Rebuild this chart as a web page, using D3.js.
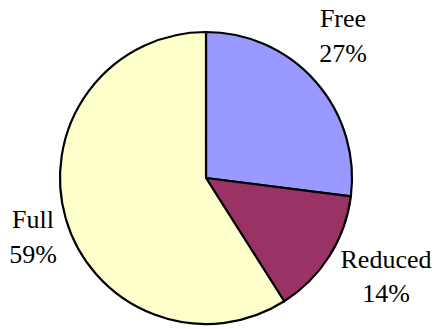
<!DOCTYPE html>
<html>
<head>
<meta charset="utf-8">
<script src="https://cdn.jsdelivr.net/npm/d3@7/dist/d3.min.js"></script>
<style>
  html, body { margin: 0; padding: 0; background: #ffffff; }
  svg { display: block; }
</style>
</head>
<body>
<svg id="chart" width="438" height="329"></svg>
<script>
// Fare categories and their share of riders (percent)
const categories = ["Free", "Reduced", "Full"];
const shares = [27, 14, 59];
const colors = ["#9999FF", "#993366", "#FFFFCC"];

const width = 438, height = 329;
const cx = 206, cy = 178, radius = 146;

const svg = d3.select("#chart");
const g = svg.append("g").attr("transform", `translate(${cx},${cy})`);

const pie = d3.pie().sort(null).value(d => d.value);
const arcs = pie(categories.map((c, i) => ({ name: c, value: shares[i], color: colors[i] })));

const arc = d3.arc().innerRadius(0).outerRadius(radius);

g.selectAll("path.slice")
  .data(arcs)
  .join("path")
  .attr("class", "slice")
  .attr("d", arc)
  .attr("fill", d => d.data.color)
  .attr("stroke", "#000")
  .attr("stroke-width", 2.2)
  .attr("stroke-linejoin", "round");

// Labels sit outside the pie, placed along each slice's mid-angle
const labelArc = d3.arc().innerRadius(195).outerRadius(195);
const nudge = { Free: [-9, -4.5], Reduced: [15, 2.5], Full: [14, 13] };
const lineGap = 34.5;

const lines = [d => d.data.name, d => d.data.value + "%"];
arcs.forEach(d => {
  const [x, y] = labelArc.centroid(d);
  const [nx, ny] = nudge[d.data.name];
  const lx = Math.round(cx + x + nx);
  const ly = cy + y + ny;
  lines.forEach((fn, i) => {
    svg.append("text")
      .attr("x", lx)
      .attr("y", Math.round(ly + (i === 0 ? -1 : 1) * lineGap / 2))
      .attr("text-anchor", "middle")
      .attr("font-family", "Liberation Serif")
      .attr("font-size", 26)
      .attr("fill", "#000")
      .text(fn(d));
  });
});
</script>
</body>
</html>
